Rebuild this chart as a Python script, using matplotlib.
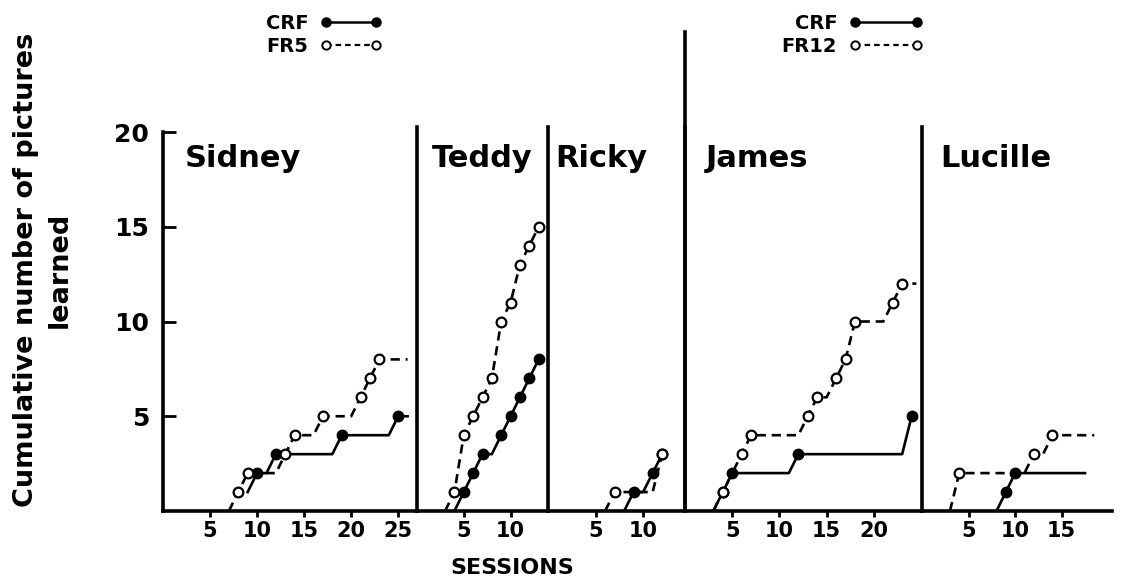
import matplotlib
matplotlib.use("Agg")
import matplotlib.pyplot as plt
from matplotlib.lines import Line2D

# ---------------- data ----------------
subjects = ["Sidney", "Teddy", "Ricky", "James", "Lucille"]
fr_names = ["FR5", "FR12"]

sidney_crf_sessions = [9, 10, 11, 12, 18, 19, 24, 25, 26]
sidney_crf_values = [1, 2, 2, 3, 3, 4, 4, 5, 5]
sidney_fr_sessions = [7, 8, 9, 12, 13, 14, 16, 17, 20, 21, 22, 23, 26]
sidney_fr_values = [0, 1, 2, 2, 3, 4, 4, 5, 5, 6, 7, 8, 8]

teddy_crf_sessions = [4, 5, 6, 7, 8, 9, 10, 11, 12, 13]
teddy_crf_values = [0, 1, 2, 3, 3, 4, 5, 6, 7, 8]
teddy_fr_sessions = [3, 4, 5, 6, 7, 8, 9, 10, 11, 12, 13]
teddy_fr_values = [0, 1, 4, 5, 6, 7, 10, 11, 13, 14, 15]

ricky_crf_sessions = [8, 9, 10, 11, 12]
ricky_crf_values = [0, 1, 1, 2, 3]
ricky_fr_sessions = [6, 7, 11, 12]
ricky_fr_values = [0, 1, 1, 3]

james_crf_sessions = [3, 4, 5, 11, 12, 23, 24]
james_crf_values = [0, 1, 2, 2, 3, 3, 5]
james_fr_sessions = [3, 4, 6, 7, 12, 13, 14, 15, 16, 17, 18, 21, 22, 23, 24.5]
james_fr_values = [0, 1, 3, 4, 4, 5, 6, 6, 7, 8, 10, 10, 11, 12, 12]

lucille_crf_sessions = [8, 9, 10, 17.5]
lucille_crf_values = [0, 1, 2, 2]
lucille_fr_sessions = [3, 4, 11, 12, 13, 14, 18.5]
lucille_fr_values = [0, 2, 2, 3, 3, 4, 4]

sidney_xticks = [5, 10, 15, 20, 25]
teddy_xticks = [5, 10]
ricky_xticks = [5, 10]
james_xticks = [5, 10, 15, 20]
lucille_xticks = [5, 10, 15]
y_ticks = [5, 10, 15, 20]

y_label = "Cumulative number of pictures\nlearned"
x_label = "SESSIONS"

crf_data = [(sidney_crf_sessions, sidney_crf_values),
            (teddy_crf_sessions, teddy_crf_values),
            (ricky_crf_sessions, ricky_crf_values),
            (james_crf_sessions, james_crf_values),
            (lucille_crf_sessions, lucille_crf_values)]
fr_data = [(sidney_fr_sessions, sidney_fr_values),
           (teddy_fr_sessions, teddy_fr_values),
           (ricky_fr_sessions, ricky_fr_values),
           (james_fr_sessions, james_fr_values),
           (lucille_fr_sessions, lucille_fr_values)]
xticks_all = [sidney_xticks, teddy_xticks, ricky_xticks, james_xticks, lucille_xticks]

# ---------------- layout / style ----------------
W, H = 1123, 580
plt.rcParams["font.family"] = ["DejaVu Sans"]
plt.rcParams["font.weight"] = "bold"
fig = plt.figure(figsize=(W / 100, H / 100), dpi=100)

base_px, top_px, y20_px = 511, 127, 132
panel_px = [(163, 254), (417, 131), (548, 137), (685, 237), (922, 190)]
panel_xlim = [(0, 27.0), (0, 14.0), (0, 14.4), (0, 25.1), (0, 20.4)]
name_offset = [22, 15, 7, 21, 18]
ytop = 20 * (base_px - top_px) / (base_px - y20_px)
LW = 1.9
SPW = 2.6

def inc_points(s, v):
    xs, ys = [], []
    for i in range(1, len(v)):
        if v[i] > v[i - 1]:
            xs.append(s[i]); ys.append(v[i])
    return xs, ys

axes = []
for i, name in enumerate(subjects):
    l, w = panel_px[i]
    ax = fig.add_axes([l / W, (H - base_px) / H, w / W, (base_px - top_px) / H])
    axes.append(ax)
    ax.set_xlim(*panel_xlim[i])
    ax.set_ylim(0, ytop)
    for sp in ["top", "right"]:
        ax.spines[sp].set_visible(False)
    ax.spines["bottom"].set_linewidth(SPW)
    ax.spines["left"].set_linewidth(SPW)
    if i == 0:
        ax.spines["left"].set_bounds(0, 20)
        ax.set_yticks(y_ticks)
        ax.tick_params(axis="y", direction="in", length=9, width=2, pad=10,
                       labelsize=18)
    else:
        ax.set_yticks([])
    ax.set_xticks(xticks_all[i])
    ax.tick_params(axis="x", direction="out", length=4.5, width=2, pad=3,
                   labelsize=15)
    for lab in ax.get_xticklabels() + ax.get_yticklabels():
        lab.set_fontweight("bold")

    # CRF (solid, filled)
    s, v = crf_data[i]
    ax.plot(s, v, "-", color="black", lw=LW, clip_on=False, zorder=3)
    mx, my = inc_points(s, v)
    ax.plot(mx, my, "o", color="black", ms=7.5, clip_on=False, zorder=3.5)
    # FR (dashed, open)
    s, v = fr_data[i]
    ax.plot(s, v, "--", color="black", lw=LW, dashes=(3.5, 2.2),
            clip_on=False, zorder=4)
    mx, my = inc_points(s, v)
    ax.plot(mx, my, "o", mfc="white", mec="black", mew=1.6, ms=7,
            clip_on=False, zorder=4.5)

    ax.annotate(name, xy=(0, 1), xycoords="axes fraction",
                xytext=(name_offset[i], -40), textcoords="offset pixels",
                ha="left", va="baseline", fontsize=22, fontweight="bold")

# James divider extends up to the legend area
james_ax = axes[3]
james_ax.axvline(0, 0, (base_px - 32) / (base_px - top_px), color="black",
                 lw=SPW, clip_on=False, zorder=5)

# legends
h_crf = Line2D([], [], color="black", lw=1.8, marker="o", ms=6.5, mfc="black")
h_fr = Line2D([], [], color="black", lw=1.6, ls="--", dashes=(2.5, 1.8),
              marker="o", ms=6, mfc="white", mec="black", mew=1.4)
leg_kw = dict(frameon=False, markerfirst=False, numpoints=2, borderpad=0,
              labelspacing=0.2, handletextpad=0.6, loc="upper left",
              prop={"weight": "bold", "size": 14})
leg1 = fig.legend([h_crf, h_fr], ["CRF", fr_names[0]], handlelength=3.2,
                  bbox_to_anchor=(256 / W, 1 - 4 / H), **leg_kw)
leg2 = fig.legend([h_crf, h_fr], ["CRF", fr_names[1]], handlelength=3.8,
                  bbox_to_anchor=(772 / W, 1 - 4 / H), **leg_kw)

fig.text(43 / W, 1 - 270 / H, y_label, rotation=90, ha="center", va="center",
         multialignment="center", fontsize=19.5, fontweight="bold",
         linespacing=1.35)
fig.text(512 / W, 1 - 568 / H, x_label, ha="center", va="center",
         fontsize=16, fontweight="bold")

fig.savefig("out.png", dpi=100)
